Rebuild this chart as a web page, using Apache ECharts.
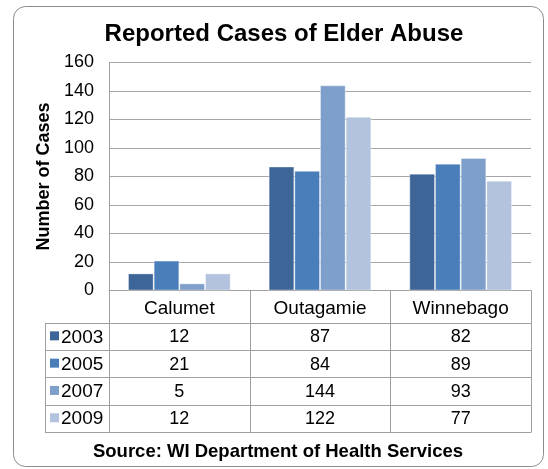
<!DOCTYPE html>
<html>
<head>
<meta charset="utf-8">
<script src="https://cdn.jsdelivr.net/npm/echarts@6/dist/echarts.min.js"></script>
<style>
  html, body { margin: 0; padding: 0; background: #fff; }
  #chart { width: 548px; height: 469px; }
</style>
</head>
<body>
<div id="chart"></div>
<script>
const categories = ['Calumet', 'Outagamie', 'Winnebago']
const years = ['2003', '2005', '2007', '2009']
const cases2003 = [12, 87, 82]
const cases2005 = [21, 84, 89]
const cases2007 = [5, 144, 93]
const cases2009 = [12, 122, 77]
const colors = ['#3d6597', '#4a7ebb', '#7f9fcb', '#b3c3de']

const seriesValues = [cases2003, cases2005, cases2007, cases2009]

// layout
const W = 548, H = 469
const plotL = 109, plotR = 531, plotT = 62.5, plotB = 290.5
const catRowB = 322.7, rowH = 27.3, headL = 45
const catW = (plotR - plotL) / categories.length
const tableB = catRowB + rowH * years.length
const lineColor = '#a0a0a0'
const font = 'Liberation Sans, Arial, sans-serif'

const chart = echarts.init(document.getElementById('chart'))

const graphics = []
// outer rounded frame
graphics.push({
  type: 'rect',
  shape: { x: 13.5, y: 6.5, width: 530, height: 460, r: 12 },
  style: { fill: 'none', stroke: '#8c8c8c', lineWidth: 1 },
  silent: true
})
// table horizontal lines
for (let i = 0; i <= years.length; i++) {
  const y = Math.round(catRowB + i * rowH) + 0.5
  graphics.push({
    type: 'line',
    shape: { x1: headL, y1: y, x2: plotR, y2: y },
    style: { stroke: lineColor, lineWidth: 1 },
    silent: true
  })
}
// table vertical lines
const vx = [headL]
for (let c = 0; c <= categories.length; c++) vx.push(plotL + c * catW)
vx.forEach((x, i) => {
  const xx = Math.round(x) + 0.5
  graphics.push({
    type: 'line',
    shape: { x1: xx, y1: i === 0 ? Math.round(catRowB) + 0.5 : plotB, x2: xx, y2: Math.round(tableB) + 0.5 },
    style: { stroke: lineColor, lineWidth: 1 },
    silent: true
  })
})
// row headers + values
years.forEach((yr, r) => {
  const cy = catRowB + (r + 0.5) * rowH
  graphics.push({
    type: 'rect',
    shape: { x: 50, y: cy - 5, width: 9, height: 9 },
    style: { fill: colors[r] },
    silent: true
  })
  graphics.push({
    type: 'text',
    x: 61, y: cy + 1,
    style: { text: yr, font: '19px ' + font, fill: '#000', textVerticalAlign: 'middle' },
    silent: true
  })
  seriesValues[r].forEach((v, c) => {
    graphics.push({
      type: 'text',
      x: plotL + (c + 0.5) * catW, y: cy + 1,
      style: { text: String(v), font: '18px ' + font, fill: '#000', textAlign: 'center', textVerticalAlign: 'middle' },
      silent: true
    })
  })
})
// source
graphics.push({
  type: 'text',
  x: 278, y: 452,
  style: { text: 'Source: WI Department of Health Services', font: 'bold 18.5px ' + font, fill: '#000', textAlign: 'center', textVerticalAlign: 'middle' },
  silent: true
})

chart.setOption({
  animation: false,
  title: {
    text: 'Reported Cases of Elder Abuse',
    left: 279,
    top: 17,
    textAlign: 'center',
    textStyle: { fontFamily: font, fontSize: 24, fontWeight: 'bold', color: '#000' }
  },
  grid: { left: plotL, right: W - plotR, top: plotT, bottom: H - plotB, containLabel: false },
  xAxis: {
    type: 'category',
    data: categories,
    axisLine: { lineStyle: { color: lineColor } },
    axisTick: { show: false },
    axisLabel: { fontFamily: font, fontSize: 19, color: '#000', margin: 9 }
  },
  yAxis: {
    type: 'value',
    min: 0,
    max: 160,
    interval: 20,
    name: 'Number of Cases',
    nameLocation: 'middle',
    nameGap: 56,
    nameRotate: 90,
    nameTextStyle: { fontFamily: font, fontSize: 18, fontWeight: 'bold', color: '#000' },
    axisLine: { show: true, lineStyle: { color: lineColor } },
    axisTick: { show: false },
    axisLabel: { fontFamily: font, fontSize: 18, color: '#000', margin: 15 },
    splitLine: { lineStyle: { color: '#a6a6a6' } }
  },
  series: years.map((yr, i) => ({
    name: yr,
    type: 'bar',
    data: seriesValues[i],
    barGap: '0%',
    barCategoryGap: '27%',
    itemStyle: { color: colors[i], borderColor: 'rgba(255,255,255,0.35)', borderWidth: 1 }
  })),
  graphic: graphics
})
</script>
</body>
</html>
